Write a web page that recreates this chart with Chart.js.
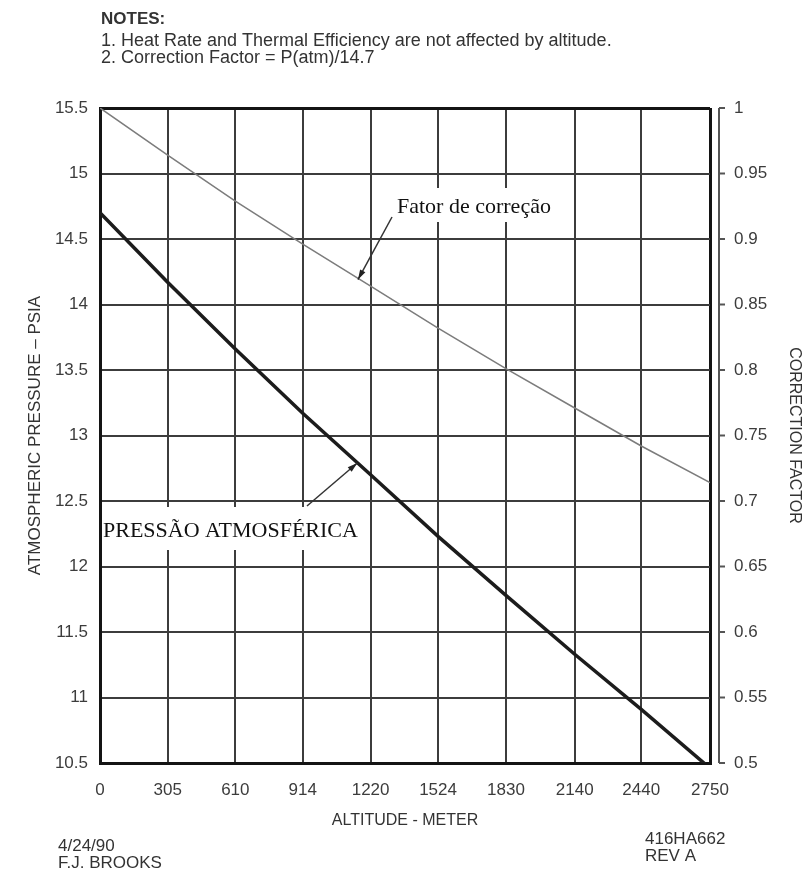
<!DOCTYPE html>
<html>
<head>
<meta charset="utf-8">
<title>Atmospheric pressure vs altitude</title>
<script src="https://cdn.jsdelivr.net/npm/chart.js@4.4.1/dist/chart.umd.min.js"></script>
<style>
  html, body { margin: 0; padding: 0; background: #fff; }
  #wrap { position: relative; width: 807px; height: 872px; }
</style>
</head>
<body>
<div id="wrap"><canvas id="chart"></canvas></div>
<script>
// altitude in meters, as printed under the x axis
const altitudes = [0, 305, 610, 914, 1220, 1524, 1830, 2140, 2440, 2750];
// thick line (psia)
const pressurePsia = [14.7, 14.17, 13.66, 13.17, 12.7, 12.23, 11.78, 11.33, 10.91, 10.46];
// thin line
const correctionFactor = [1.0, 0.964, 0.929, 0.896, 0.864, 0.832, 0.801, 0.771, 0.742, 0.714];

const pressureTicks = [10.5, 11, 11.5, 12, 12.5, 13, 13.5, 14, 14.5, 15, 15.5];
const factorTicks = [0.5, 0.55, 0.6, 0.65, 0.7, 0.75, 0.8, 0.85, 0.9, 0.95, 1];

const notes = [
  '1. Heat Rate and Thermal Efficiency are not affected by altitude.',
  '2. Correction Factor = P(atm)/14.7'
];

const sans = '"Liberation Sans", Arial, sans-serif';
const serif = '"Liberation Serif", "Times New Roman", serif';

function drawArrow(ctx, x0, y0, x1, y1) {
  ctx.beginPath();
  ctx.moveTo(x0, y0);
  ctx.lineTo(x1, y1);
  ctx.stroke();
  const a = Math.atan2(y1 - y0, x1 - x0);
  const len = 10, w = 3;
  ctx.beginPath();
  ctx.moveTo(x1, y1);
  ctx.lineTo(x1 - len * Math.cos(a) + w * Math.sin(a), y1 - len * Math.sin(a) - w * Math.cos(a));
  ctx.lineTo(x1 - len * Math.cos(a) - w * Math.sin(a), y1 - len * Math.sin(a) + w * Math.cos(a));
  ctx.closePath();
  ctx.fill();
}

// labels with white boxes + arrows pointing at the two curves
const curveLabels = {
  id: 'curveLabels',
  afterDatasetsDraw(chart) {
    const ctx = chart.ctx;
    const { x, y, y1 } = chart.scales;
    ctx.save();
    ctx.fillStyle = '#fff';
    ctx.fillRect(392, 188, 176, 34);
    ctx.fillRect(104, 507, 266, 43);

    ctx.fillStyle = '#111';
    ctx.font = '22px ' + serif;
    ctx.textBaseline = 'alphabetic';
    ctx.textAlign = 'left';
    ctx.fillText('Fator de correção', 397, 213);
    ctx.fillText('PRESSÃO ATMOSFÉRICA', 103, 537);

    ctx.strokeStyle = '#333';
    ctx.fillStyle = '#222';
    ctx.lineWidth = 1.5;
    drawArrow(ctx, 392, 217, x.getPixelForValue(1163), y1.getPixelForValue(0.869));
    drawArrow(ctx, 307, 506, x.getPixelForValue(1160), y.getPixelForValue(12.79));
    ctx.restore();
  },
  afterDraw(chart) {
    const ctx = chart.ctx;
    const y1 = chart.scales.y1;
    const bx = chart.chartArea.right + 9;
    ctx.save();
    // offset right-hand axis line with small tick marks
    ctx.strokeStyle = '#555';
    ctx.lineWidth = 2;
    ctx.beginPath();
    ctx.moveTo(bx, y1.getPixelForValue(1));
    ctx.lineTo(bx, y1.getPixelForValue(0.5));
    ctx.stroke();
    factorTicks.forEach(v => {
      const py = y1.getPixelForValue(v);
      ctx.beginPath();
      ctx.moveTo(bx, py);
      ctx.lineTo(bx + 6, py);
      ctx.stroke();
    });

    // notes and drawing info
    ctx.fillStyle = '#333';
    ctx.textBaseline = 'middle';
    ctx.textAlign = 'left';
    ctx.font = 'bold 17px ' + sans;
    ctx.fillText('NOTES:', 101, 19);
    ctx.font = '18px ' + sans;
    ctx.fillText(notes[0], 101, 41);
    ctx.fillText(notes[1], 101, 58);

    ctx.font = '17px ' + sans;
    ctx.fillText('4/24/90', 58, 846);
    ctx.fillText('F.J. BROOKS', 58, 863);
    ctx.fillText('416HA662', 645, 839);
    ctx.fillText('REV A', 645, 856);
    ctx.restore();
  }
};

const frame = '#141414';
const gridCol = '#3c3c3c';

const ctx = document.getElementById('chart').getContext('2d');
new Chart(ctx, {
  type: 'line',
  data: {
    datasets: [{
      label: 'Pressão atmosférica',
      data: altitudes.map((a, i) => ({ x: a, y: pressurePsia[i] })),
      yAxisID: 'y',
      borderColor: '#1c1c1c',
      borderWidth: 3.5,
      pointRadius: 0,
      clip: 0
    }, {
      label: 'Fator de correção',
      data: altitudes.map((a, i) => ({ x: a, y: correctionFactor[i] })),
      yAxisID: 'y1',
      borderColor: '#7c7c7c',
      borderWidth: 1.5,
      pointRadius: 0
    }]
  },
  options: {
    responsive: true,
    maintainAspectRatio: false,
    animation: false,
    layout: { padding: { top: 108, left: 0, right: 0, bottom: 0 } },
    plugins: { legend: { display: false }, tooltip: { enabled: false } },
    scales: {
      x: {
        type: 'linear',
        min: 0,
        max: 2750,
        afterBuildTicks: s => { s.ticks = altitudes.map(v => ({ value: v })); },
        afterFit: s => { s.height = 109; },
        grid: {
          drawTicks: false,
          color: c => (c.tick && (c.tick.value === 0 || c.tick.value === 2750)) ? frame : gridCol,
          lineWidth: c => (c.tick && (c.tick.value === 0 || c.tick.value === 2750)) ? 3 : 2
        },
        border: { display: true, color: frame, width: 3 },
        ticks: {
          padding: 17,
          maxRotation: 0,
          autoSkip: false,
          color: '#3c3c3c',
          font: { family: sans, size: 17 },
          callback: v => String(v)
        },
        title: {
          display: true,
          text: 'ALTITUDE - METER',
          color: '#333',
          font: { family: sans, size: 16 },
          padding: { top: 0, bottom: 42 }
        }
      },
      y: {
        position: 'left',
        min: 10.5,
        max: 15.5,
        afterBuildTicks: s => { s.ticks = pressureTicks.map(v => ({ value: v })); },
        afterFit: s => { s.width = 100; },
        grid: {
          drawTicks: false,
          color: c => (c.tick && c.tick.value === 15.5) ? frame : gridCol,
          lineWidth: c => (c.tick && (c.tick.value === 15.5 || c.tick.value === 10.5)) ? 3 : 2
        },
        border: { display: true, color: frame, width: 3 },
        ticks: {
          padding: 12,
          color: '#3c3c3c',
          font: { family: sans, size: 17 },
          callback: v => String(v)
        },
        title: {
          display: true,
          text: 'ATMOSPHERIC PRESSURE – PSIA',
          color: '#333',
          font: { family: sans, size: 17 },
          padding: { top: 25, bottom: 0 }
        }
      },
      y1: {
        position: 'right',
        min: 0.5,
        max: 1,
        afterBuildTicks: s => { s.ticks = factorTicks.map(v => ({ value: v })); },
        afterFit: s => { s.width = 97; },
        grid: { display: false, drawTicks: false },
        border: { display: false },
        ticks: {
          padding: 24,
          color: '#3c3c3c',
          font: { family: sans, size: 17 },
          callback: v => String(v)
        },
        title: {
          display: true,
          text: 'CORRECTION FACTOR',
          color: '#333',
          font: { family: sans, size: 16 },
          padding: { top: 3, bottom: 0 }
        }
      }
    }
  },
  plugins: [curveLabels]
});
</script>
</body>
</html>
